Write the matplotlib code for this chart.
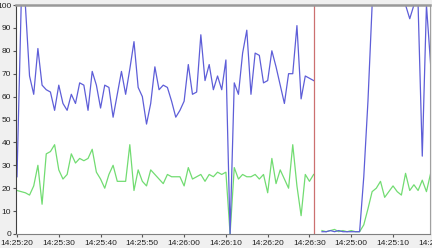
import matplotlib
matplotlib.use('Agg')
import matplotlib.pyplot as plt
import numpy as np

# seconds since 14:25:20, one sample per second (circular buffer display)
seconds_a = list(range(0, 72))
blue_a = [25, 100, 100, 69, 61, 81, 65, 63, 62, 54,
          65, 57, 54, 61, 57, 66, 65, 54, 71, 65,
          55, 65, 64, 51, 61, 71, 61, 72, 84, 64,
          60, 48, 57, 73, 63, 65, 64, 58, 51, 54,
          58, 74, 61, 62, 87, 67, 74, 63, 69, 63,
          76, 0, 66, 61, 79, 89, 61, 79, 78, 66,
          67, 80, 73, 65, 57, 70, 70, 91, 59, 69,
          68, 67]
green_a = [19, 18.5, 18, 17, 21, 30, 13, 35, 36, 39,
           28, 24, 26, 35, 31, 33, 32, 33, 37, 27,
           24, 20, 26, 30, 23, 23, 23, 39, 19, 28,
           23, 21, 28, 26, 24, 22, 26, 25, 25, 25,
           21, 29, 24, 25, 26, 23, 26, 25, 27, 26,
           27, 0, 29, 24, 26, 25, 25, 26, 24, 26,
           18, 33, 22, 28, 24, 20, 39, 21, 8, 26,
           23, 26]

seconds_b = list(range(73, 100))
blue_b = [1, 1, 1.5, 1, 1.5, 1, 1, 1, 1, 1,
          25, 58, 100, 100, 100, 100, 100, 100, 100, 100,
          100, 94, 100, 100, 34, 100, 74]
green_b = [1.5, 1, 1.5, 2, 1, 1.5, 1, 1.5, 1, 1,
           4, 11, 18.5, 20, 23, 16, 18.5, 21, 18.5, 17,
           26.5, 19, 21.5, 19, 23.5, 18.5, 26.5]

cursor_pos = 71.2

tick_pos = [0, 10, 20, 30, 40, 50, 60, 70, 80, 90]
tick_labels = ['14:25:20', '14:25:30', '14:25:40', '14:25:50', '14:26:00',
               '14:26:10', '14:26:20', '14:26:30', '14:25:00', '14:25:10']
extra_tick_pos = 100
extra_tick_label = '14:25:20'

plt.rcParams['font.family'] = ['Liberation Sans Narrow', 'Liberation Sans', 'DejaVu Sans']

fig = plt.figure(figsize=(4.32, 2.48), dpi=100, facecolor='#f0f0f0')
ax = fig.add_axes([16 / 432, 14 / 248, 414 / 432, 229 / 248])
ax.set_facecolor('white')

ax.plot(seconds_a, green_a, color='#72dc72', lw=0.9)
ax.plot(seconds_b, green_b, color='#72dc72', lw=0.9)
ax.plot(seconds_a, blue_a, color='#5e5ed8', lw=0.9)
ax.plot(seconds_b, blue_b, color='#5e5ed8', lw=0.9)
ax.axvline(cursor_pos, color='#cc7070', lw=0.9)

ax.set_xlim(-0.24, 98.85)
ax.set_ylim(0, 100)
ax.set_yticks(range(0, 101, 10))
ax.set_xticks(tick_pos)
ax.set_xticklabels(tick_labels)
ax.annotate(extra_tick_label, xy=(extra_tick_pos, 0), xycoords=('data', 'axes fraction'),
            xytext=(0, -4.5), textcoords='offset points', ha='center', va='top',
            fontsize=6, color='#222222', annotation_clip=False)

ax.tick_params(axis='both', labelsize=6, labelcolor='#222222', color='#555555',
               length=2.5, width=0.8, direction='out')
ax.tick_params(axis='y', pad=1)
ax.tick_params(axis='x', pad=2)

ax.spines['left'].set_color('#404040')
ax.spines['bottom'].set_color('#808080')
ax.spines['right'].set_color('#a0a0a0')
ax.spines['top'].set_color('#999999')
ax.spines['top'].set_linewidth(1.8)

fig.savefig('out.png', dpi=100, facecolor=fig.get_facecolor())
